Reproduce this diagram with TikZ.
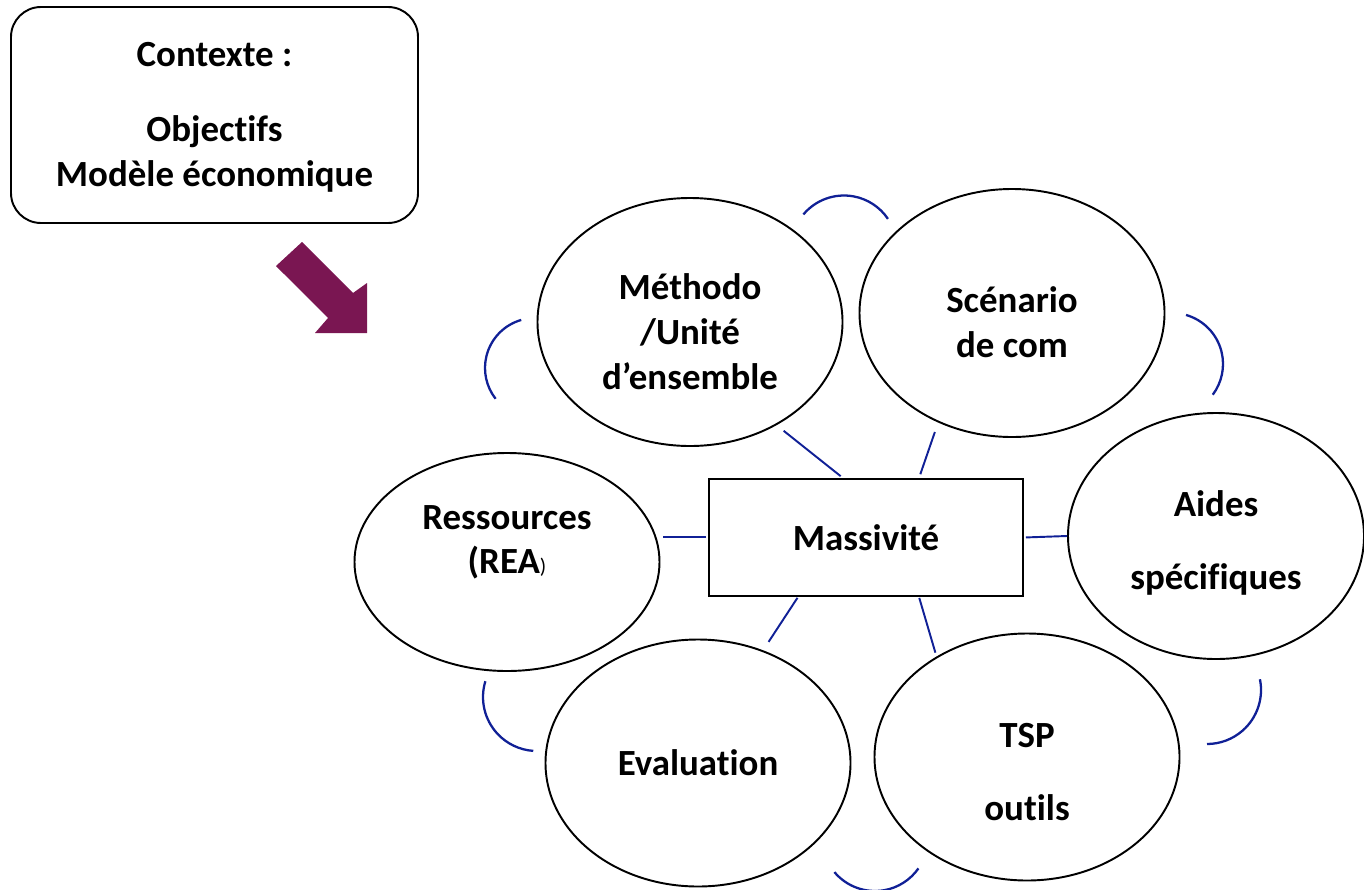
\documentclass[tikz,border=0pt]{standalone}
\usepackage{fontspec}
\setmainfont{Carlito}[Ligatures=NoCommon]
\usepackage{tikz}
\usetikzlibrary{calc}
\usetikzlibrary{shapes.geometric}
\definecolor{lienbleu}{RGB}{16,32,150}
\definecolor{prune}{RGB}{122,22,82}
\tikzstyle{every node}=[font=\fontsize{21}{25.5}\selectfont\bfseries]
\tikzstyle{bulle}=[draw, ellipse, line width=1.1pt, minimum width=6.1cm, minimum height=4.96cm, align=center, inner sep=0pt]
\tikzstyle{lien}=[draw=lienbleu, line width=1.1pt]
\tikzstyle{arcbleu}=[draw=lienbleu, line width=1.3pt]

\begin{document}
\begin{tikzpicture}

                \useasboundingbox (0, 0) rectangle (27.28, -17.78);

                \coordinate (K) at (4.29, -2.30);
                \coordinate (C) at (17.32, -10.75);

                \coordinate (M) at (13.80, -6.44);
                \coordinate (S) at (20.24, -6.26);
                \coordinate (R) at (10.14, -11.24);
                \coordinate (A) at (24.32, -10.72);
                \coordinate (E) at (13.96, -15.26);
                \coordinate (T) at (20.54, -15.14);

                \node [draw, line width=1.1pt, rounded corners=0.6cm, minimum width=8.14cm, minimum height=4.32cm, align=center] (contexte) at (K) {\mbox{}\\[-9pt]Contexte :\\[17pt]Objectifs\\Modèle économique};

                \fill [prune] (6.04, -4.84) -- (7.06, -5.86) -- (7.34, -5.66) -- (7.34, -6.66) -- (6.30, -6.66) -- (6.56, -6.36) -- (5.52, -5.32) -- cycle;

                \node [draw, line width=1.1pt, minimum width=6.28cm, minimum height=2.34cm] (massivite) at (C) {Massivité};

                \node [bulle] (methodo) at (M) {\mbox{}\\Méthodo\\/Unité\\d’ensemble};
                \node [bulle] (scenario) at (S) {\mbox{}\\Scénario\\de com};
                \node [bulle, minimum height=4.36cm] (ressources) at (R) {Ressources\\(REA{\mdseries\fontsize{12}{14}\selectfont)}\\\mbox{}};
                \node [bulle, minimum width=5.92cm, minimum height=4.92cm] (aides) at (A) {\mbox{}\\[-3pt]Aides\\[16pt]spécifiques};
                \node [bulle, minimum height=4.94cm] (evaluation) at (E) {Evaluation};
                \node [bulle, minimum height=4.94cm] (tsp) at (T) {\mbox{}\\[5pt]TSP\\[16pt]outils};

                \draw [lien, shorten <=0.06cm, shorten >=0.18cm] ([xshift=-0.46cm]massivite.north) -- (methodo.310);
                \draw [lien, shorten <=0.08cm, shorten >=0.2cm] ([xshift=1.06cm]massivite.north) -- (scenario.236);
                \draw [lien, shorten <=0.04cm, shorten >=0.05cm] ([yshift=0.01cm]massivite.west) -- ([yshift=0.01cm]massivite.west -| ressources.east);
                \draw [lien, shorten <=0.04cm] (massivite.east) -- (aides.west);
                \draw [lien, shorten <=0.02cm, shorten >=0.2cm] ([xshift=-1.36cm]massivite.south) -- (evaluation.60);
                \draw [lien, shorten <=0.02cm, shorten >=0.08cm] ([xshift=1.06cm]massivite.south) -- (tsp.132);

                \draw [arcbleu] (16.88, -4.97) ++(140:1.06) arc (140:34:1.06);
                \draw [arcbleu] (10.70, -7.36) ++(106:1.0) arc (106:218:1.0);
                \draw [arcbleu] (23.44, -7.28) ++(74:1.02) arc (74:-37:1.02);
                \draw [arcbleu] (10.74, -13.94) ++(163:1.08) arc (163:266:1.08);
                \draw [arcbleu] (24.14, -13.80) ++(11.5:1.08) arc (11.5:-90:1.08);
                \draw [arcbleu] (17.50, -16.76) ++(220:1.06) arc (220:325:1.06);

            \end{tikzpicture}
\end{document}
